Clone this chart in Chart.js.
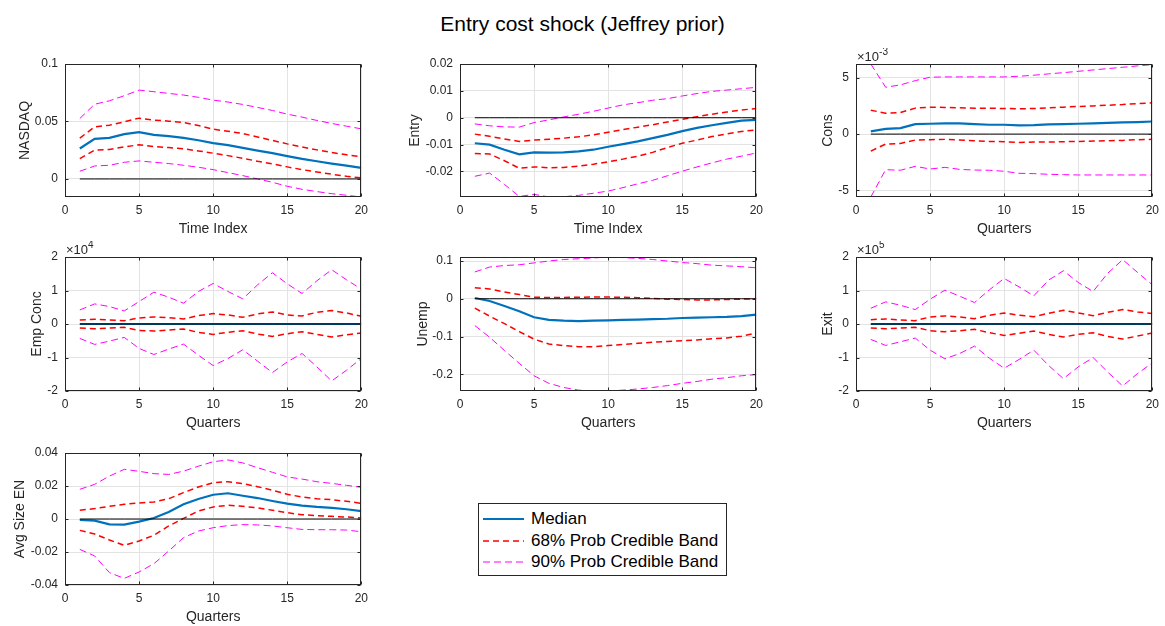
<!DOCTYPE html>
<html>
<head>
<meta charset="utf-8">
<script src="https://cdn.jsdelivr.net/npm/chart.js@4.4.0/dist/chart.umd.min.js"></script>
<style>
  html, body { margin: 0; padding: 0; background: #fff; overflow: hidden; }
  body { width: 1165px; height: 626px; position: relative; font-family: "Liberation Sans", Arial, sans-serif; }
  #title { position: absolute; left: 0; top: 12px; width: 1165px; text-align: center; font-size: 21px; color: #000; }
  canvas.panel { position: absolute; }
  #legend { position: absolute; left: 478px; top: 503px; width: 249px; height: 73px; border: 1px solid #262626; background: #fff; box-sizing: border-box; padding-top: 4px; }
  #legend .row { height: 21.8px; display: flex; align-items: center; font-size: 17px; color: #000; }
  #legend svg { margin-left: 3px; margin-right: 6px; }
</style>
</head>
<body>
<div id="title">Entry cost shock (Jeffrey prior)</div>
<canvas id="p1" class="panel"></canvas>
<canvas id="p2" class="panel"></canvas>
<canvas id="p3" class="panel"></canvas>
<canvas id="p4" class="panel"></canvas>
<canvas id="p5" class="panel"></canvas>
<canvas id="p6" class="panel"></canvas>
<canvas id="p7" class="panel"></canvas>
<div id="legend">
  <div class="row"><svg width="43" height="10"><line x1="1" y1="5" x2="42" y2="5" stroke="#0072BD" stroke-width="2.2"/></svg><span>Median</span></div>
  <div class="row"><svg width="43" height="10"><line x1="1" y1="5" x2="42" y2="5" stroke="#FF0000" stroke-width="1.5" stroke-dasharray="6,4"/></svg><span>68% Prob Credible Band</span></div>
  <div class="row"><svg width="43" height="10"><line x1="1" y1="5" x2="42" y2="5" stroke="#FF00FF" stroke-width="1" stroke-dasharray="7,4"/></svg><span>90% Prob Credible Band</span></div>
</div>
<script>
// horizon
const quarters = [1,2,3,4,5,6,7,8,9,10,11,12,13,14,15,16,17,18,19,20];
const zeroLine = [0,0,0,0,0,0,0,0,0,0,0,0,0,0,0,0,0,0,0,0];
const xTicks = [0, 5, 10, 15, 20];

// NASDAQ
const nasdaqMedian = [0.0265,0.0349,0.0358,0.0390,0.0407,0.0384,0.0372,0.0358,0.0337,0.0311,0.0294,0.0270,0.0247,0.0224,0.0198,0.0174,0.0154,0.0134,0.0116,0.0096];
const nasdaqHi68 = [0.0355,0.0453,0.0468,0.0497,0.0529,0.0512,0.0503,0.0491,0.0465,0.0433,0.0415,0.0395,0.0365,0.0335,0.0305,0.0278,0.0253,0.0230,0.0210,0.0192];
const nasdaqLo68 = [0.0177,0.0250,0.0256,0.0279,0.0297,0.0282,0.0273,0.0262,0.0244,0.0224,0.0203,0.0180,0.0154,0.0131,0.0105,0.0081,0.0061,0.0041,0.0023,0.0009];
const nasdaqHi90 = [0.0526,0.0650,0.0680,0.0724,0.0773,0.0759,0.0744,0.0730,0.0710,0.0686,0.0669,0.0648,0.0622,0.0596,0.0564,0.0538,0.0509,0.0483,0.0459,0.0436];
const nasdaqLo90 = [0.0067,0.0113,0.0119,0.0145,0.0157,0.0145,0.0134,0.0119,0.0102,0.0081,0.0055,0.0029,0.0000,-0.0029,-0.0064,-0.0090,-0.0110,-0.0128,-0.0142,-0.0157];
const nasdaqTicks = [0, 0.05, 0.1];
const nasdaqTickLabels = ['0', '0.05', '0.1'];

// Entry
const entryMedian = [-0.0095,-0.0100,-0.0119,-0.0136,-0.0129,-0.0130,-0.0129,-0.0125,-0.0119,-0.0108,-0.0098,-0.0088,-0.0076,-0.0064,-0.0050,-0.0038,-0.0028,-0.0019,-0.0011,-0.0008];
const entryHi68 = [-0.0061,-0.0069,-0.0079,-0.0088,-0.0083,-0.0080,-0.0076,-0.0071,-0.0064,-0.0054,-0.0044,-0.0035,-0.0026,-0.0016,-0.0006,0.0004,0.0013,0.0021,0.0029,0.0034];
const entryLo68 = [-0.0133,-0.0135,-0.0160,-0.0188,-0.0183,-0.0186,-0.0185,-0.0180,-0.0173,-0.0164,-0.0154,-0.0143,-0.0129,-0.0111,-0.0095,-0.0083,-0.0070,-0.0060,-0.0051,-0.0045];
const entryHi90 = [-0.0023,-0.0030,-0.0034,-0.0035,-0.0018,-0.0008,0.0003,0.0013,0.0024,0.0036,0.0048,0.0056,0.0065,0.0071,0.0081,0.0090,0.0098,0.0103,0.0108,0.0113];
const entryLo90 = [-0.0218,-0.0206,-0.0248,-0.0293,-0.0285,-0.0295,-0.0294,-0.0289,-0.0281,-0.0273,-0.0260,-0.0246,-0.0233,-0.0216,-0.0199,-0.0183,-0.0168,-0.0154,-0.0143,-0.0131];
const entryTicks = [-0.02, -0.01, 0, 0.01, 0.02];
const entryTickLabels = ['-0.02', '-0.01', '0', '0.01', '0.02'];

// Cons
const consMedian = [0.24e-3,0.47e-3,0.53e-3,0.89e-3,0.92e-3,0.95e-3,0.95e-3,0.89e-3,0.83e-3,0.83e-3,0.77e-3,0.80e-3,0.86e-3,0.89e-3,0.92e-3,0.95e-3,1.00e-3,1.04e-3,1.07e-3,1.12e-3];
const consHi68 = [2.13e-3,1.86e-3,1.92e-3,2.31e-3,2.40e-3,2.37e-3,2.34e-3,2.31e-3,2.31e-3,2.28e-3,2.25e-3,2.28e-3,2.34e-3,2.40e-3,2.46e-3,2.51e-3,2.57e-3,2.63e-3,2.72e-3,2.78e-3];
const consLo68 = [-1.51e-3,-0.89e-3,-0.83e-3,-0.53e-3,-0.50e-3,-0.47e-3,-0.53e-3,-0.59e-3,-0.65e-3,-0.68e-3,-0.74e-3,-0.71e-3,-0.71e-3,-0.68e-3,-0.65e-3,-0.62e-3,-0.59e-3,-0.56e-3,-0.50e-3,-0.47e-3];
const consHi90 = [6.24e-3,4.17e-3,4.38e-3,4.76e-3,5.06e-3,5.09e-3,5.09e-3,5.09e-3,5.09e-3,5.09e-3,5.15e-3,5.24e-3,5.36e-3,5.47e-3,5.59e-3,5.71e-3,5.83e-3,5.95e-3,6.07e-3,6.18e-3];
const consLo90 = [-5.60e-3,-3.17e-3,-3.22e-3,-2.87e-3,-3.11e-3,-2.96e-3,-3.14e-3,-3.20e-3,-3.22e-3,-3.31e-3,-3.49e-3,-3.52e-3,-3.58e-3,-3.61e-3,-3.64e-3,-3.64e-3,-3.64e-3,-3.64e-3,-3.64e-3,-3.64e-3];
const consTicks = [-5e-3, 0, 5e-3];
const consTickLabels = ['-5', '0', '5'];

// Emp Conc
const empMedian = [0,0,0,0,0,0,0,0,0,0,0,0,0,0,0,0,0,0,0,0];
const empHi68 = [1200,1400,1200,1000,1800,2100,1900,1500,2500,3100,2700,2000,3000,3600,2700,2400,3500,4000,3300,2300];
const empLo68 = [-1200,-1400,-1200,-1000,-1900,-2100,-1800,-1500,-2500,-3100,-2500,-2000,-3000,-3700,-2900,-2300,-3100,-3900,-3200,-2700];
const empHi90 = [4200,6000,5200,3900,6700,9500,8000,6200,9700,12100,9700,7500,11700,15300,12000,9100,12900,16200,13200,10400];
const empLo90 = [-4300,-6100,-5100,-4000,-7300,-9100,-7500,-6000,-9300,-12400,-10300,-7700,-11100,-14500,-11300,-8800,-12800,-17000,-13800,-10300];
const empTicks = [-20000, -10000, 0, 10000, 20000];
const empTickLabels = ['-2', '-1', '0', '1', '2'];

// Unemp
const unempMedian = [0.002,-0.006,-0.019,-0.033,-0.049,-0.056,-0.058,-0.059,-0.058,-0.057,-0.056,-0.055,-0.054,-0.053,-0.051,-0.050,-0.049,-0.048,-0.046,-0.042];
const unempHi68 = [0.029,0.026,0.018,0.011,0.004,0.0035,0.0035,0.004,0.0045,0.0045,0.004,0.003,0.001,-0.001,-0.002,-0.003,-0.003,-0.002,-0.001,0.000];
const unempLo68 = [-0.025,-0.046,-0.066,-0.087,-0.107,-0.120,-0.124,-0.127,-0.127,-0.124,-0.121,-0.118,-0.115,-0.113,-0.111,-0.109,-0.106,-0.104,-0.099,-0.091];
const unempHi90 = [0.071,0.084,0.088,0.090,0.095,0.100,0.104,0.106,0.108,0.1106,0.109,0.107,0.104,0.100,0.096,0.093,0.089,0.087,0.085,0.082];
const unempLo90 = [-0.071,-0.102,-0.137,-0.171,-0.204,-0.224,-0.235,-0.242,-0.2443,-0.244,-0.242,-0.239,-0.235,-0.230,-0.224,-0.219,-0.213,-0.209,-0.204,-0.201];
const unempTicks = [-0.2, -0.1, 0, 0.1];
const unempTickLabels = ['-0.2', '-0.1', '0', '0.1'];

// Exit
const exitMedian = [0,0,0,0,0,0,0,0,0,0,0,0,0,0,0,0,0,0,0,0];
const exitHi68 = [13000,15000,12000,10000,21000,24000,21000,16000,26000,33000,26000,22000,32000,41000,33000,25000,35000,43000,36000,31000];
const exitLo68 = [-12000,-14000,-12000,-10000,-20000,-23000,-20000,-16000,-26000,-34000,-28000,-21000,-31000,-39000,-31000,-26000,-37000,-45000,-36000,-27000];
const exitHi90 = [47000,66000,56000,43000,74000,101000,83000,64000,102000,136000,111000,84000,131000,159000,124000,97000,152000,192000,154000,117000];
const exitLo90 = [-46000,-64000,-53000,-42000,-78000,-104000,-88000,-66000,-102000,-132000,-106000,-78000,-124000,-163000,-128000,-100000,-144000,-185000,-148000,-116000];
const exitTicks = [-200000, -100000, 0, 100000, 200000];
const exitTickLabels = ['-2', '-1', '0', '1', '2'];

// Avg Size EN
const avgMedian = [-0.0006,-0.0010,-0.0032,-0.0034,-0.0016,0.0006,0.0042,0.0089,0.0121,0.0147,0.0156,0.0141,0.0127,0.0109,0.0093,0.0081,0.0073,0.0067,0.0059,0.0048];
const avgHi68 = [0.0053,0.0063,0.0077,0.0089,0.0097,0.0103,0.0123,0.0160,0.0194,0.0220,0.0226,0.0214,0.0196,0.0174,0.0150,0.0133,0.0123,0.0117,0.0107,0.0095];
const avgLo68 = [-0.0069,-0.0091,-0.0127,-0.0160,-0.0133,-0.0099,-0.0042,0.0004,0.0048,0.0073,0.0083,0.0077,0.0067,0.0053,0.0038,0.0026,0.0020,0.0016,0.0012,0.0006];
const avgHi90 = [0.0180,0.0210,0.0260,0.0301,0.0289,0.0275,0.0270,0.0290,0.0320,0.0347,0.0358,0.0340,0.0311,0.0283,0.0255,0.0242,0.0226,0.0216,0.0204,0.0192];
const avgLo90 = [-0.0184,-0.0224,-0.0325,-0.0360,-0.0321,-0.0271,-0.0194,-0.0113,-0.0073,-0.0053,-0.0040,-0.0034,-0.0036,-0.0042,-0.0053,-0.0063,-0.0065,-0.0065,-0.0067,-0.0077];
const avgTicks = [-0.04, -0.02, 0, 0.02, 0.04];
const avgTickLabels = ['-0.04', '-0.02', '0', '0.02', '0.04'];

// grid of subplots
const colLeft = [65, 459.5, 856];
const rowTop = [64, 257, 453];
const rowH = [133, 134, 132];
const plotW = 301;
const axisW = 65, padTop = 16, padRight = 8, axisH = 46;

const ink = '#262626';

// box round the axes, inward ticks and the x10^n note
const framePlugin = {
  id: 'frame',
  afterDraw(chart, args, opts) {
    const {ctx, chartArea: a, scales} = chart;
    ctx.save();
    ctx.strokeStyle = ink;
    ctx.lineWidth = 1;
    const l = Math.round(a.left) + 0.5, r = Math.round(a.right) - 0.5;
    const t = Math.round(a.top) + 0.5, b = Math.round(a.bottom) - 0.5;
    ctx.strokeRect(l, t, r - l, b - t);
    ctx.beginPath();
    scales.x.ticks.forEach(tk => {
      const px = Math.round(scales.x.getPixelForValue(tk.value)) + 0.5;
      ctx.moveTo(px, b); ctx.lineTo(px, b - 3);
      ctx.moveTo(px, t); ctx.lineTo(px, t + 3);
    });
    scales.y.ticks.forEach(tk => {
      const py = Math.round(scales.y.getPixelForValue(tk.value)) + 0.5;
      ctx.moveTo(l, py); ctx.lineTo(l + 3, py);
      ctx.moveTo(r, py); ctx.lineTo(r - 3, py);
    });
    ctx.stroke();
    if (opts.exp) {
      ctx.fillStyle = ink;
      ctx.textBaseline = 'alphabetic';
      ctx.font = '13px "Liberation Sans", Arial, sans-serif';
      const base = a.top - 3;
      ctx.fillText('\u00d710', a.left + 1, base);
      const w = ctx.measureText('\u00d710').width;
      ctx.font = '10px "Liberation Sans", Arial, sans-serif';
      ctx.fillText(opts.exp, a.left + 1 + w, base - 6);
    }
    ctx.restore();
  }
};

function pts(arr) {
  return arr.map((v, i) => ({x: quarters[i], y: v}));
}

function makePanel(id, col, row, p) {
  const cv = document.getElementById(id);
  cv.width = axisW + plotW + padRight;
  cv.height = padTop + rowH[row] + axisH;
  cv.style.left = (colLeft[col] - axisW) + 'px';
  cv.style.top = (rowTop[row] - padTop) + 'px';

  new Chart(cv.getContext('2d'), {
    type: 'line',
    data: {
      datasets: [
        {label: 'zero', data: pts(zeroLine), borderColor: '#000000', borderWidth: 1, order: 0},
        {label: 'Median', data: pts(p.med), borderColor: '#0072BD', borderWidth: 2.2, order: 1},
        {label: '68 hi', data: pts(p.hi68), borderColor: '#FF0000', borderWidth: 1.5, borderDash: [6, 4], order: 2},
        {label: '68 lo', data: pts(p.lo68), borderColor: '#FF0000', borderWidth: 1.5, borderDash: [6, 4], order: 3},
        {label: '90 hi', data: pts(p.hi90), borderColor: '#FF00FF', borderWidth: 1, borderDash: [7, 4], order: 4},
        {label: '90 lo', data: pts(p.lo90), borderColor: '#FF00FF', borderWidth: 1, borderDash: [7, 4], order: 5}
      ]
    },
    options: {
      responsive: false,
      animation: false,
      layout: {padding: {left: 0, top: padTop, right: padRight, bottom: 0}},
      elements: {point: {radius: 0}, line: {tension: 0, fill: false}},
      plugins: {
        legend: {display: false},
        tooltip: {enabled: false},
        frame: {exp: p.exp}
      },
      scales: {
        x: {
          type: 'linear', min: 0, max: 20,
          afterBuildTicks: s => { s.ticks = xTicks.map(v => ({value: v})); },
          afterFit: s => { s.height = axisH; },
          grid: {color: '#e3e3e3', drawTicks: false},
          border: {display: false},
          ticks: {padding: 6, color: ink, font: {size: 12}, maxRotation: 0, callback: v => String(v)},
          title: {display: true, text: p.xLabel, color: ink, font: {size: 14}, padding: {top: 0, bottom: 5}}
        },
        y: {
          type: 'linear', min: p.yMin, max: p.yMax,
          afterBuildTicks: s => { s.ticks = p.ticks.map(v => ({value: v})); },
          afterFit: s => { s.width = axisW; },
          grid: {color: '#e3e3e3', drawTicks: false},
          border: {display: false},
          ticks: {padding: 7, color: ink, font: {size: 12}, callback: (v, i) => p.tickLabels[i]},
          title: {display: true, text: p.yLabel, color: ink, font: {size: 14}, padding: {top: p.titleGap, bottom: 0}}
        }
      }
    },
    plugins: [framePlugin]
  });
}

Chart.defaults.font.family = '"Liberation Sans", Arial, sans-serif';

makePanel('p1', 0, 0, {yLabel: 'NASDAQ', xLabel: 'Time Index', med: nasdaqMedian, hi68: nasdaqHi68, lo68: nasdaqLo68, hi90: nasdaqHi90, lo90: nasdaqLo90,
  yMin: -0.0157, yMax: 0.1, ticks: nasdaqTicks, tickLabels: nasdaqTickLabels, titleGap: 16.6});
makePanel('p2', 1, 0, {yLabel: 'Entry', xLabel: 'Time Index', med: entryMedian, hi68: entryHi68, lo68: entryLo68, hi90: entryHi90, lo90: entryLo90,
  yMin: -0.0295, yMax: 0.02, ticks: entryTicks, tickLabels: entryTickLabels, titleGap: 12.1});
makePanel('p3', 2, 0, {yLabel: 'Cons', xLabel: 'Quarters', med: consMedian, hi68: consHi68, lo68: consLo68, hi90: consHi90, lo90: consLo90,
  yMin: -0.0056, yMax: 0.00624, ticks: consTicks, tickLabels: consTickLabels, titleGap: 28.6, exp: '-3'});
makePanel('p4', 0, 1, {yLabel: 'Emp Conc', xLabel: 'Quarters', med: empMedian, hi68: empHi68, lo68: empLo68, hi90: empHi90, lo90: empLo90,
  yMin: -20000, yMax: 20000, ticks: empTicks, tickLabels: empTickLabels, titleGap: 28.6, exp: '4'});
makePanel('p5', 1, 1, {yLabel: 'Unemp', xLabel: 'Quarters', med: unempMedian, hi68: unempHi68, lo68: unempLo68, hi90: unempHi90, lo90: unempLo90,
  yMin: -0.2443, yMax: 0.1106, ticks: unempTicks, tickLabels: unempTickLabels, titleGap: 19.6});
makePanel('p6', 2, 1, {yLabel: 'Exit', xLabel: 'Quarters', med: exitMedian, hi68: exitHi68, lo68: exitLo68, hi90: exitHi90, lo90: exitLo90,
  yMin: -200000, yMax: 200000, ticks: exitTicks, tickLabels: exitTickLabels, titleGap: 28.6, exp: '5'});
makePanel('p7', 0, 2, {yLabel: 'Avg Size EN', xLabel: 'Quarters', med: avgMedian, hi68: avgHi68, lo68: avgLo68, hi90: avgHi90, lo90: avgLo90,
  yMin: -0.04, yMax: 0.04, ticks: avgTicks, tickLabels: avgTickLabels, titleGap: 11.6});
</script>
</body>
</html>
